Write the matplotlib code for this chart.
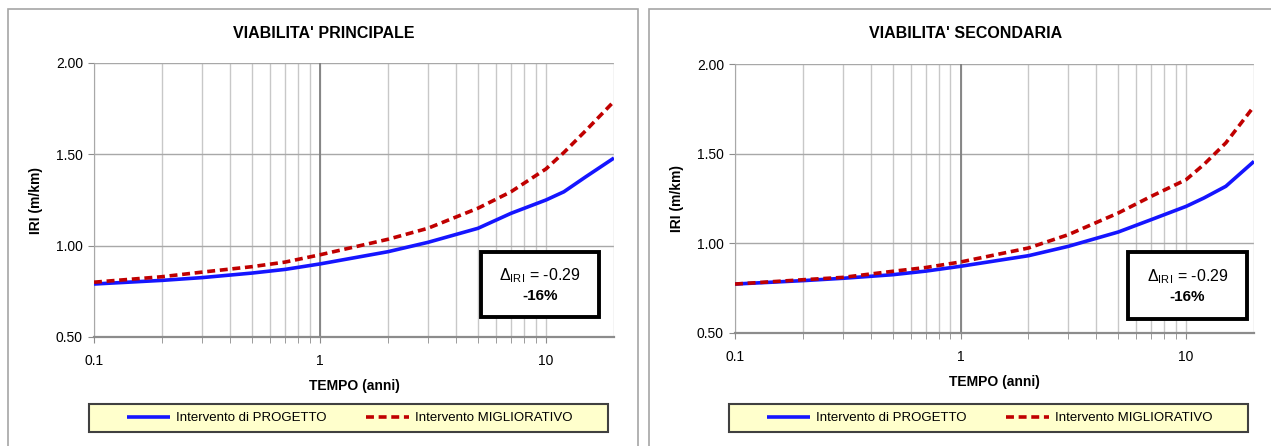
import matplotlib
matplotlib.use('Agg')
import matplotlib.pyplot as plt
from matplotlib.patches import Rectangle
from matplotlib.ticker import FixedLocator, NullFormatter

plt.rcParams['font.family'] = ['Liberation Sans Narrow', 'Liberation Sans', 'DejaVu Sans']
plt.rcParams['mathtext.fontset'] = 'custom'
plt.rcParams['mathtext.rm'] = 'Liberation Sans'
plt.rcParams['mathtext.it'] = 'Liberation Sans'

# data
tempo = [0.1, 0.2, 0.3, 0.5, 0.7, 1, 2, 3, 5, 7, 10, 12, 15, 20]

princ_progetto = [0.79, 0.81, 0.825, 0.85, 0.87, 0.90, 0.967, 1.018, 1.095, 1.177, 1.25, 1.295, 1.377, 1.48]
princ_miglior = [0.80, 0.83, 0.855, 0.885, 0.91, 0.95, 1.035, 1.095, 1.205, 1.295, 1.42, 1.51, 1.63, 1.79]

sec_progetto = [0.773, 0.792, 0.805, 0.825, 0.845, 0.872, 0.931, 0.983, 1.063, 1.132, 1.206, 1.253, 1.318, 1.457]
sec_miglior = [0.773, 0.797, 0.81, 0.844, 0.865, 0.896, 0.974, 1.048, 1.169, 1.262, 1.355, 1.44, 1.56, 1.764]

titles = ["VIABILITA' PRINCIPALE", "VIABILITA' SECONDARIA"]
delta_txt = "-0.29"
perc_txt = "-16%"
serie_labels = ["Intervento di PROGETTO", "Intervento MIGLIORATIVO"]

W, H = 1271, 446
fig = plt.figure(figsize=(W / 100, H / 100), dpi=100)

# panel frames (Excel chart areas)
for x0, x1 in [(8, 638), (649, 1275)]:
    fig.patches.append(Rectangle((x0 / W, -0.05), (x1 - x0) / W, 1 - 9 / H + 0.05,
                                 transform=fig.transFigure, fill=False,
                                 edgecolor='#A6A6A6', linewidth=1.2, zorder=-1))

panels = [
    dict(ax=(94, 614, 63, 337), data=(princ_progetto, princ_miglior), box=(0.744, 0.073, 0.227, 0.237),
         leg=(89, 608, 404, 432), title_x=324),
    dict(ax=(735, 1254, 64, 333), data=(sec_progetto, sec_miglior), box=(0.757, 0.052, 0.229, 0.248),
         leg=(729, 1248, 404, 432), title_x=966),
]

for i, p in enumerate(panels):
    l, r, t, b = p['ax']
    ax = fig.add_axes([l / W, 1 - b / H, (r - l) / W, (b - t) / H])
    prog, migl = p['data']
    h1, = ax.plot(tempo, prog, color='#1515FF', lw=2.6, solid_capstyle='butt', zorder=4)
    h2, = ax.plot(tempo, migl, color='#C00000', lw=2.6, ls=(0, (2.2, 1.3)), zorder=5)
    ax.set_xscale('log')
    ax.set_xlim(0.1, 20)
    ax.set_ylim(0.5, 2.0)
    ax.xaxis.set_major_locator(FixedLocator([0.1, 1, 10]))
    ax.xaxis.set_minor_locator(FixedLocator([0.2, 0.3, 0.4, 0.5, 0.6, 0.7, 0.8, 0.9,
                                             2, 3, 4, 5, 6, 7, 8, 9]))
    ax.xaxis.set_minor_formatter(NullFormatter())
    ax.set_xticklabels(['0.1', '1', '10'])
    ax.set_yticks([0.5, 1.0, 1.5, 2.0])
    ax.set_yticklabels(['0.50', '1.00', '1.50', '2.00'])
    ax.grid(True, which='both', axis='x', color='#C8C8C8', lw=1.0)
    ax.grid(True, which='major', axis='y', color='#A8A8A8', lw=1.0)
    ax.axvline(1, color='#7F7F7F', lw=1.3, zorder=2)
    ax.axvline(20, color='#C8C8C8', lw=1.0, zorder=2)
    ax.set_axisbelow(True)
    for s in ['top', 'right']:
        ax.spines[s].set_visible(False)
    ax.spines['left'].set_color('#A8A8A8')
    ax.spines['bottom'].set_color('#8C8C8C')
    ax.spines['bottom'].set_linewidth(1.6)
    ax.tick_params(axis='both', which='both', colors='#8C8C8C', labelcolor='black', labelsize=10)
    ax.tick_params(axis='x', which='major', length=4, pad=8)
    ax.tick_params(axis='x', which='minor', length=4)
    ax.tick_params(axis='y', length=4, pad=4)
    ax.set_xlabel('TEMPO (anni)', fontsize=10, fontweight='bold', labelpad=8)
    ax.set_ylabel('IRI (m/km)', fontsize=10, fontweight='bold', labelpad=9)
    fig.text(p['title_x'] / W, 1 - 33 / H, titles[i], ha='center', va='center',
             fontsize=11.5, fontweight='bold')

    bx, by, bw, bh = p['box']
    ax.add_patch(Rectangle((bx, by), bw, bh, transform=ax.transAxes, facecolor='white',
                           edgecolor='black', lw=2.8, zorder=6))
    cx = bx + bw / 2
    ax.text(cx, by + bh * 0.64, r'$\Delta_{\mathrm{IRI}}$ = ' + delta_txt, transform=ax.transAxes,
            ha='center', va='center', fontsize=11.5, zorder=7)
    ax.text(cx, by + bh * 0.33, perc_txt, transform=ax.transAxes,
            ha='center', va='center', fontsize=11, fontweight='bold', zorder=7)

    # legend: own frame, entries centred inside it
    ll, lr, lt, lb = p['leg']
    fig.patches.append(Rectangle((ll / W, 1 - lb / H), (lr - ll) / W, (lb - lt) / H,
                                 transform=fig.transFigure, facecolor='#FFFFCC',
                                 edgecolor='#404040', linewidth=1.5, zorder=-1))
    leg = ax.legend([h1, h2], serie_labels, loc='center', ncol=2,
                    bbox_to_anchor=((ll + lr) / 2 / W + 1 / W, 1 - (lt + lb) / 2 / H),
                    bbox_transform=fig.transFigure, frameon=False, fontsize=9.5,
                    handlelength=3.3, handletextpad=0.4, columnspacing=3.0,
                    borderpad=0.3)

fig.savefig('out.png', dpi=100, facecolor='white')
